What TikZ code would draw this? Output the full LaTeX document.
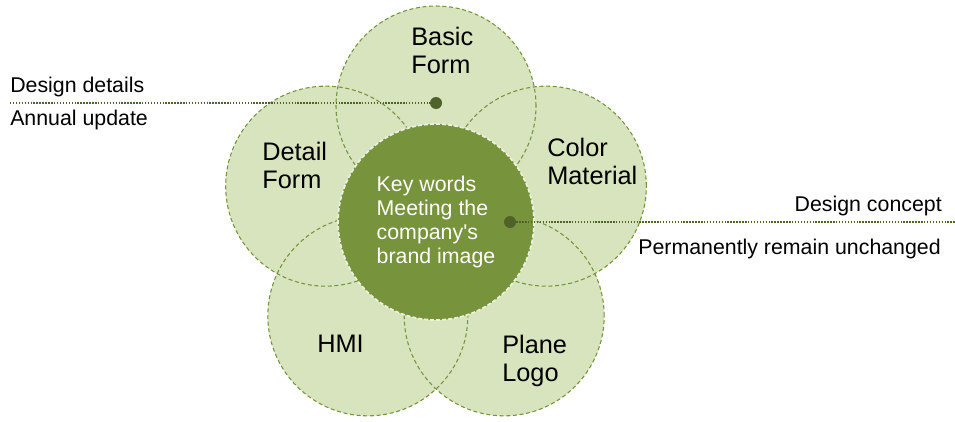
\documentclass[tikz,border=0pt]{standalone}
\usepackage{fontspec}
\setmainfont{Liberation Sans}[Ligatures=TeXOff]
\definecolor{leaf}{HTML}{D7E4BD}
\definecolor{olive}{HTML}{77933C}
\definecolor{bark}{HTML}{4F6228}
\definecolor{mist}{HTML}{EBF1DE}

\begin{document}
\begin{tikzpicture}[x=0.75pt,y=-0.75pt,
  petal/.style={font=\fontsize{19}{21}\selectfont, align=left, anchor=north west, inner sep=0pt},
  note/.style={font=\fontsize{16}{18}\selectfont, inner sep=0pt},
  pin/.style={circle, fill=bark, minimum size=9pt, inner sep=0pt},
  leader/.style={bark, line width=1.1pt, dash pattern=on 1.1pt off 1.1pt}]
  \useasboundingbox (0,0) rectangle (955,421);
  \foreach \t in {-90,-18,...,198}
    \fill[leaf] (436,222) ++(\t:116) circle[radius=75pt];
  \foreach \t in {-90,-18,...,198}
    \draw[olive, line width=0.8pt, dash pattern=on 3pt off 2pt] (436,222) ++(\t:116) circle[radius=75pt];
  \node[circle, fill=olive, draw=mist, line width=1.3pt, dash pattern=on 3pt off 1.5pt,
    minimum size=147pt, inner sep=0pt, text=white, align=left,
    font=\fontsize{16}{18}\selectfont] (core) at (436,222)
    {Key words\\Meeting the\\company's\\brand image};
  \node[petal] (basic) at (411,27) {Basic\\Form};
  \node[petal] (detail) at (262,142) {Detail\\Form};
  \node[petal] (color) at (547,138) {Color\\Material};
  \node[petal] (hmi) at (317,335) {HMI};
  \node[petal] (plane) at (502,335) {Plane\\Logo};
  \coordinate (west) at (10,103);
  \coordinate (east) at (955,222);
  \node[pin] (upper) at (436,103) {};
  \node[pin] (inner) at (510,222) {};
  \draw[leader] (west) -- (upper);
  \draw[leader] (inner) -- (east);
  \node[note, anchor=base west] (details) at (10,92) {Design details};
  \node[note, anchor=base west] (annual) at (10,125) {Annual update};
  \node[note, anchor=base east] (concept) at (942,211) {Design concept};
  \node[note, anchor=base east] (forever) at (941,254) {Permanently remain unchanged};
\end{tikzpicture}
\end{document}
